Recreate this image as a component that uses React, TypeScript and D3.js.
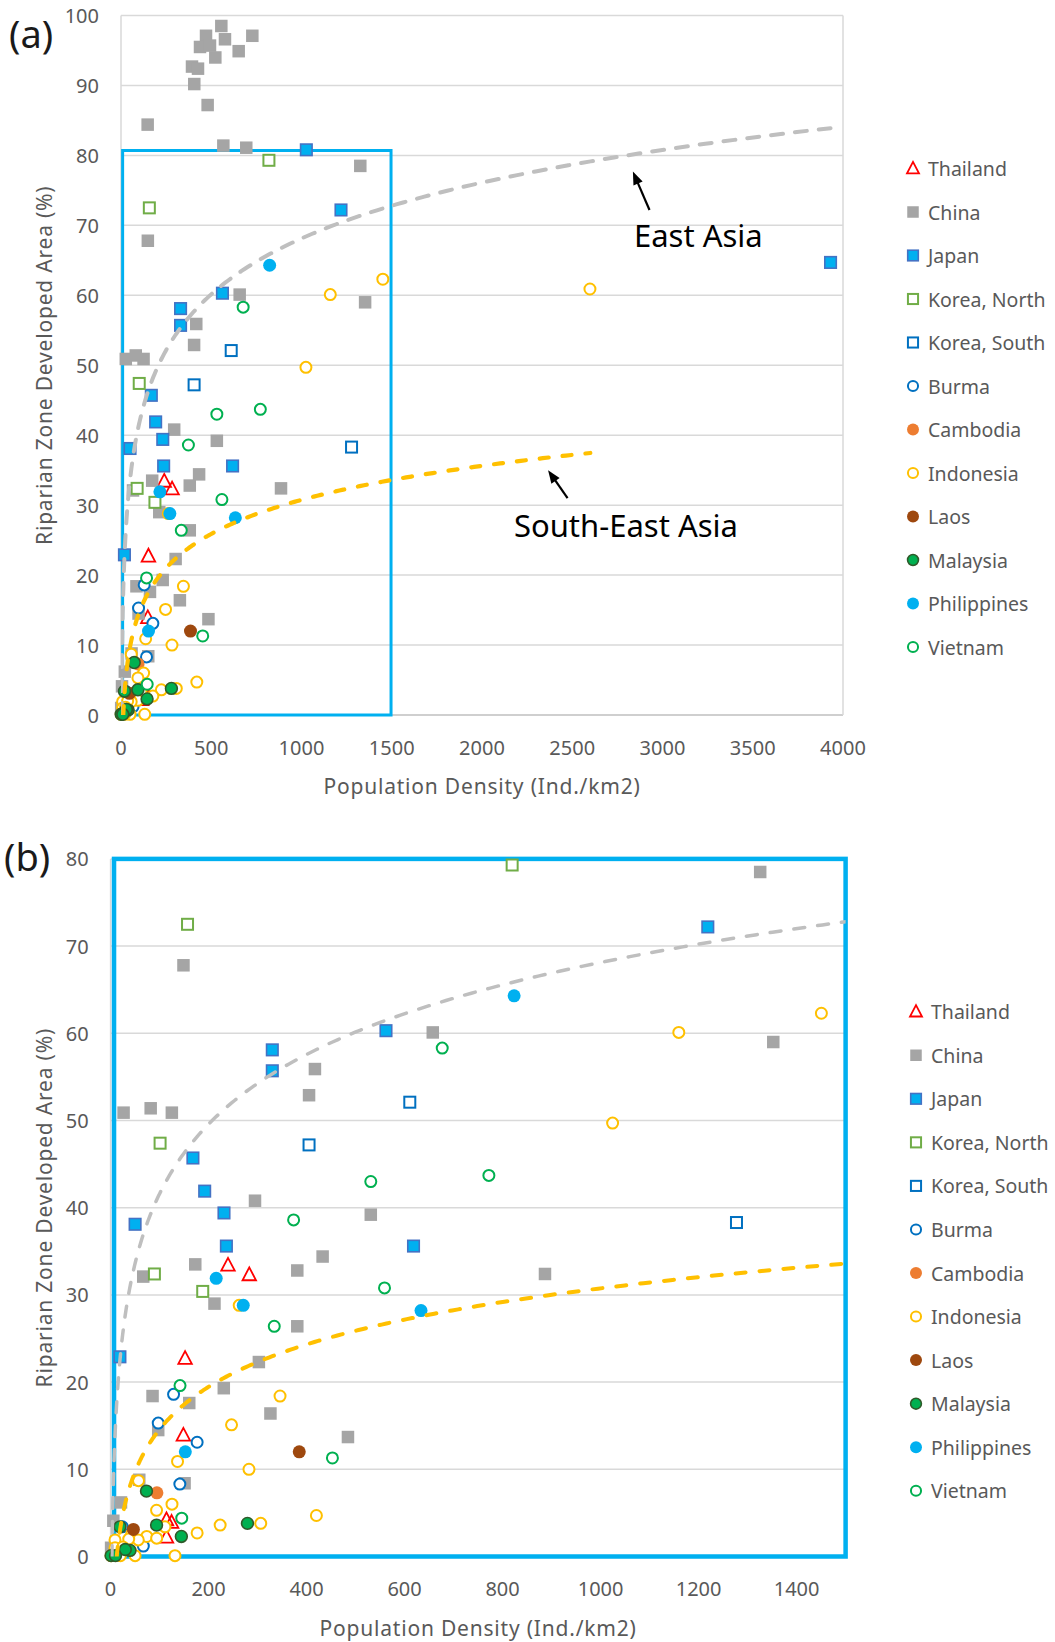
import React from 'react';
import * as d3 from 'd3';

type Pt = [number, number];

// ---------- data (Population density, Riparian developed %) ----------
const seriesNames = ['Thailand', 'China', 'Japan', 'Korea, North', 'Korea, South', 'Burma', 'Cambodia', 'Indonesia', 'Laos', 'Malaysia', 'Philippines', 'Vietnam'];

const thailand: Pt[] = [[239.6, 33.4], [283, 32.3], [152, 22.7], [148.5, 13.9], [114, 4.2], [124.5, 3.9], [114, 2.2]];

const china: Pt[] = [
  [555.8, 98.5], [471, 97.1], [727.6, 97.1], [576, 96.6], [437.7, 95.5], [493, 95.7], [652, 94.9], [522.6, 94.0],
  [393.4, 92.7], [426.6, 92.4], [406, 90.2], [480, 87.2], [147.7, 84.4], [567, 81.4], [694, 81.1],
  [1325.7, 78.5], [148.7, 67.8], [657.5, 60.1], [1352.4, 59.0], [417, 55.9], [405, 52.9], [26.5, 50.9], [81.8, 51.4],
  [125, 50.9], [294.7, 40.8], [531, 39.2], [432.7, 34.4], [172.8, 33.5], [381, 32.8], [886.5, 32.4], [66.6, 32.1],
  [212, 29.0], [381, 26.4], [302.6, 22.3], [231, 19.3], [85.6, 18.4], [160.5, 17.6], [326.2, 16.4], [97.2, 14.5],
  [484.4, 13.7], [151, 8.4], [58.5, 8.8], [21.2, 6.2], [5.6, 4.1], [1, 1.0]
];

const japan: Pt[] = [
  [3931, 64.7], [1026.8, 80.8], [1218.8, 72.2], [562, 60.3], [330, 58.1], [330, 55.7], [168, 45.7], [192, 41.9],
  [231.4, 39.4], [50, 38.1], [236.3, 35.6], [618.2, 35.6], [19, 22.9]
];

const koreaNorth: Pt[] = [[819.5, 79.3], [157, 72.5], [101, 47.4], [89.4, 32.4], [188, 30.4]];

const koreaSouth: Pt[] = [[610.6, 52.1], [405, 47.2], [1277.3, 38.3]];

const burma: Pt[] = [[128.5, 18.6], [97.2, 15.3], [176.6, 13.1], [141.3, 8.3], [24, 3.4], [66.8, 1.2]];

const cambodia: Pt[] = [[94.5, 7.3]];

const indonesia: Pt[] = [
  [2598, 60.9], [1450.6, 62.3], [1159.6, 60.1], [1024.5, 49.7], [262.4, 28.8], [345.8, 18.4], [246.8, 15.1],
  [136.6, 10.9], [282.4, 10.0], [57, 8.7], [125.3, 6.0], [93.8, 5.3], [420, 4.7], [306.4, 3.8], [223.6, 3.6],
  [111, 3.4], [176.6, 2.7], [73.8, 2.3], [94, 2.1], [43, 2.6], [56.5, 1.9], [9, 1.9], [37, 2.0], [9, 1.0],
  [25, 1.1], [50, 0.1], [131.4, 0.1], [1, 0.1], [20, 0.1]
];

const laos: Pt[] = [[385, 12.0], [46.5, 3.1]];

const malaysia: Pt[] = [[73.2, 7.5], [93.8, 3.6], [279.3, 3.8], [144.4, 2.3], [19.2, 3.4], [39.6, 0.7], [30, 0.8], [1, 0.1], [10, 0.1]];

const philippines: Pt[] = [[823.5, 64.3], [215.5, 31.9], [270.7, 28.8], [633.5, 28.2], [152.5, 12.0]];

const vietnam: Pt[] = [
  [676.8, 58.3], [531, 43.0], [772, 43.7], [373.5, 38.6], [559, 30.8], [334, 26.4], [141.7, 19.6], [452.7, 11.3], [145.2, 4.4]
];

const seriesData: Pt[][] = [thailand, china, japan, koreaNorth, koreaSouth, burma, cambodia, indonesia, laos, malaysia, philippines, vietnam];

// logarithmic trend lines (y = a ln x + b)
const trendEastAsia = { a: 11.52, b: -11.45, xMin: 2.7, xMax: 3931 };
const trendSouthEastAsia = { a: 7.02, b: -17.74, xMin: 12.5, xMax: 2600 };

const xTicksA = [0, 500, 1000, 1500, 2000, 2500, 3000, 3500, 4000];
const yTicksA = [0, 10, 20, 30, 40, 50, 60, 70, 80, 90, 100];
const xTicksB = [0, 200, 400, 600, 800, 1000, 1200, 1400];
const yTicksB = [0, 10, 20, 30, 40, 50, 60, 70, 80];

// zoom window (panel b range), drawn as a box
const boxA = { x0: 9, x1: 1496, y0: 0, y1: 80.7 };
const boxB = { x0: 7, x1: 1500, y0: 0, y1: 80 };

// annotations (data units of panel a)
const annEast = { label: 'East Asia', tail: [2928, 72.2] as Pt, tip: [2836, 77.7] as Pt, text: [2842, 68.6] as Pt };
const annSouthEast = { label: 'South-East Asia', tail: [2474, 31.0] as Pt, tip: [2366, 35.0] as Pt, text: [2177, 27.2] as Pt };

// ---------- styles ----------
type Style = { shape: 'tri' | 'sq' | 'circ'; fill: string; stroke: string; sw: number; size: number };
const styles: Style[] = [
  { shape: 'tri', fill: 'none', stroke: '#ff0000', sw: 1.8, size: 13.5 },
  { shape: 'sq', fill: '#a5a5a5', stroke: 'none', sw: 0, size: 12.5 },
  { shape: 'sq', fill: '#00b0f0', stroke: '#4472c4', sw: 1.6, size: 11.5 },
  { shape: 'sq', fill: '#ffffff', stroke: '#70ad47', sw: 2, size: 11 },
  { shape: 'sq', fill: '#ffffff', stroke: '#0070c0', sw: 2, size: 11 },
  { shape: 'circ', fill: '#ffffff', stroke: '#0070c0', sw: 2, size: 11 },
  { shape: 'circ', fill: '#ed7d31', stroke: 'none', sw: 0, size: 13 },
  { shape: 'circ', fill: '#ffffff', stroke: '#ffc000', sw: 2, size: 11 },
  { shape: 'circ', fill: '#9e480e', stroke: 'none', sw: 0, size: 13 },
  { shape: 'circ', fill: '#00b050', stroke: '#2f5a2a', sw: 1.6, size: 11.8 },
  { shape: 'circ', fill: '#00b0f0', stroke: 'none', sw: 0, size: 13 },
  { shape: 'circ', fill: '#ffffff', stroke: '#00b050', sw: 2, size: 11 },
];

const FONT = "'Noto Sans', 'DejaVu Sans', sans-serif";
const GRID = '#d9d9d9';
const TEXT = '#595959';
const BOX = '#00b0f0';

function markerEl(st: Style, cx: number, cy: number, key: string | number) {
  if (st.shape === 'sq') {
    const s = st.size;
    return <rect key={key} x={cx - s / 2} y={cy - s / 2} width={s} height={s} fill={st.fill} stroke={st.stroke} strokeWidth={st.sw} />;
  }
  if (st.shape === 'circ') {
    return <circle key={key} cx={cx} cy={cy} r={st.size / 2} fill={st.fill} stroke={st.stroke} strokeWidth={st.sw} />;
  }
  const w = st.size;
  const h = st.size * 0.95;
  const d = `M${cx},${cy - h * 0.58}L${cx + w / 2},${cy + h * 0.42}L${cx - w / 2},${cy + h * 0.42}Z`;
  return <path key={key} d={d} fill={st.fill} stroke={st.stroke} strokeWidth={st.sw} />;
}

type Trend = { a: number; b: number; xMin: number; xMax: number };
function trendPoints(t: Trend): Pt[] {
  return d3.range(0, 301).map((i) => {
    const x = t.xMin * Math.pow(t.xMax / t.xMin, i / 300);
    return [x, t.a * Math.log(x) + t.b] as Pt;
  });
}

interface PanelProps {
  id: string;
  xDomain: [number, number];
  yDomain: [number, number];
  xRange: [number, number];
  yRange: [number, number];
  xTicks: number[];
  yTicks: number[];
  box: { x0: number; x1: number; y0: number; y1: number };
  boxWidth: number;
  label: string;
  labelPos: Pt;
  legendX: number;
  legendY0: number;
  legendStep: number;
  eaDash: string;
  seaDash: string;
  eaWidth: number;
  seaWidth: number;
  frame: boolean;
  annotations: boolean;
}

function Arrow({ tail, tip }: { tail: Pt; tip: Pt }) {
  const dx = tip[0] - tail[0];
  const dy = tip[1] - tail[1];
  const len = Math.hypot(dx, dy);
  const ux = dx / len;
  const uy = dy / len;
  const hl = 13;
  const hw = 5;
  const bx = tip[0] - ux * hl;
  const by = tip[1] - uy * hl;
  const head = `M${tip[0]},${tip[1]}L${bx - uy * hw},${by + ux * hw}L${bx + uy * hw},${by - ux * hw}Z`;
  return (
    <g>
      <line x1={tail[0]} y1={tail[1]} x2={bx + ux * 2} y2={by + uy * 2} stroke="#000" strokeWidth={2.2} />
      <path d={head} fill="#000" />
    </g>
  );
}

function Panel(p: PanelProps) {
  const x = d3.scaleLinear().domain(p.xDomain).range(p.xRange);
  const y = d3.scaleLinear().domain(p.yDomain).range(p.yRange);
  const [px0, px1] = p.xRange;
  const [py0, py1] = p.yRange; // py0 bottom, py1 top
  const line = d3.line<Pt>().x((d) => x(d[0])).y((d) => y(d[1]));
  const inRange = (d: Pt) => d[0] >= p.xDomain[0] && d[0] <= p.xDomain[1] && d[1] >= p.yDomain[0] && d[1] <= p.yDomain[1];
  const clipId = `clip-${p.id}`;
  const eaPts = trendPoints(trendEastAsia).filter((d) => d[1] >= -2);
  const seaPts = trendPoints(trendSouthEastAsia).filter((d) => d[1] >= -2);

  return (
    <g>
      <defs>
        <clipPath id={clipId}>
          <rect x={px0} y={py1} width={px1 - px0} height={py0 - py1} />
        </clipPath>
      </defs>
      {/* gridlines */}
      {p.yTicks.map((t) => (
        <line key={`g${t}`} x1={px0} x2={px1} y1={y(t)} y2={y(t)} stroke={t === 0 ? '#bfbfbf' : GRID} strokeWidth={1.5} />
      ))}
      <line x1={px0} x2={px0} y1={py1} y2={py0} stroke={GRID} strokeWidth={1.5} />
      {p.frame && <line x1={px1} x2={px1} y1={py1} y2={py0} stroke={GRID} strokeWidth={1.5} />}

      {/* tick labels */}
      {p.yTicks.map((t) => (
        <text key={`yl${t}`} x={px0 - 22} y={y(t)} textAnchor="end" dominantBaseline="central" fontSize={20} fill={TEXT} fontFamily={FONT}>
          {t}
        </text>
      ))}
      {p.xTicks.map((t) => (
        <text key={`xl${t}`} x={x(t)} y={py0 + 32} textAnchor="middle" dominantBaseline="central" fontSize={20} fill={TEXT} fontFamily={FONT}>
          {t}
        </text>
      ))}

      {/* axis titles */}
      <text x={(px0 + px1) / 2} y={py0 + 71} textAnchor="middle" dominantBaseline="central" fontSize={21} letterSpacing={0.8} fill={TEXT} fontFamily={FONT}>
        Population Density (Ind./km2)
      </text>
      <text
        transform={`translate(44,${(py0 + py1) / 2}) rotate(-90)`}
        textAnchor="middle"
        dominantBaseline="central"
        fontSize={21}
        letterSpacing={0.8}
        fill={TEXT}
        fontFamily={FONT}
      >
        Riparian Zone Developed Area (%)
      </text>

      {/* panel label */}
      <text x={p.labelPos[0]} y={p.labelPos[1]} dominantBaseline="central" fontSize={38} fill="#1a1a1a" fontFamily={FONT}>
        {p.label}
      </text>

      {/* zoom box */}
      <rect
        x={x(p.box.x0)}
        y={y(p.box.y1)}
        width={x(p.box.x1) - x(p.box.x0)}
        height={y(p.box.y0) - y(p.box.y1)}
        fill="none"
        stroke={BOX}
        strokeWidth={p.boxWidth}
      />

      {/* points */}
      {seriesData.map((ser, si) => (
        <g key={`s${si}`}>{ser.filter(inRange).map((d, i) => markerEl(styles[si], x(d[0]), y(d[1]), i))}</g>
      ))}

      {/* trend lines */}
      <g clipPath={`url(#${clipId})`}>
        <path d={line(eaPts) || ''} fill="none" stroke="#bfbfbf" strokeWidth={p.eaWidth} strokeDasharray={p.eaDash} strokeLinecap="round" />
        <path d={line(seaPts) || ''} fill="none" stroke="#ffc000" strokeWidth={p.seaWidth} strokeDasharray={p.seaDash} strokeLinecap="round" />
      </g>

      {/* annotations */}
      {p.annotations && (
        <g>
          <Arrow tail={[x(annEast.tail[0]), y(annEast.tail[1])]} tip={[x(annEast.tip[0]), y(annEast.tip[1])]} />
          <text x={x(annEast.text[0])} y={y(annEast.text[1])} dominantBaseline="central" fontSize={31} fill="#000" fontFamily={FONT}>
            {annEast.label}
          </text>
          <Arrow tail={[x(annSouthEast.tail[0]), y(annSouthEast.tail[1])]} tip={[x(annSouthEast.tip[0]), y(annSouthEast.tip[1])]} />
          <text x={x(annSouthEast.text[0])} y={y(annSouthEast.text[1])} dominantBaseline="central" fontSize={31} fill="#000" fontFamily={FONT}>
            {annSouthEast.label}
          </text>
        </g>
      )}

      {/* legend */}
      {seriesNames.map((name, i) => {
        const ly = p.legendY0 + i * p.legendStep;
        const st = styles[i];
        const lst: Style = { ...st, size: st.shape === 'tri' ? 12 : st.size * 0.92 };
        return (
          <g key={`lg${i}`}>
            {markerEl(lst, p.legendX, ly, 'm')}
            <text x={p.legendX + 15} y={ly} dominantBaseline="central" fontSize={19.5} fill={TEXT} fontFamily={FONT}>
              {name}
            </text>
          </g>
        );
      })}
    </g>
  );
}

export default function App() {
  return (
    <svg
      width={1055}
      height={1642}
      viewBox="0 0 1055 1642"
      style={{ position: 'absolute', left: 0, top: 0, background: '#ffffff' }}
    >
      <rect x={0} y={0} width={1055} height={1642} fill="#ffffff" />
      <Panel
        id="a"
        xDomain={[0, 4000]}
        yDomain={[0, 100]}
        xRange={[121, 843]}
        yRange={[715, 15.5]}
        xTicks={xTicksA}
        yTicks={yTicksA}
        box={boxA}
        boxWidth={3}
        label="(a)"
        labelPos={[9, 33]}
        legendX={913}
        legendY0={168.5}
        legendStep={43.5}
        eaDash="12 12"
        seaDash="9 14"
        eaWidth={4}
        seaWidth={4.2}
        frame={true}
        annotations={true}
      />
      <Panel
        id="b"
        xDomain={[0, 1500]}
        yDomain={[0, 80]}
        xRange={[110.6, 845.6]}
        yRange={[1556.5, 858.9]}
        xTicks={xTicksB}
        yTicks={yTicksB}
        box={boxB}
        boxWidth={4.5}
        label="(b)"
        labelPos={[4, 856]}
        legendX={916}
        legendY0={1011.7}
        legendStep={43.55}
        eaDash="11 13"
        seaDash="10 14"
        eaWidth={3.5}
        seaWidth={4}
        frame={false}
        annotations={false}
      />
    </svg>
  );
}
